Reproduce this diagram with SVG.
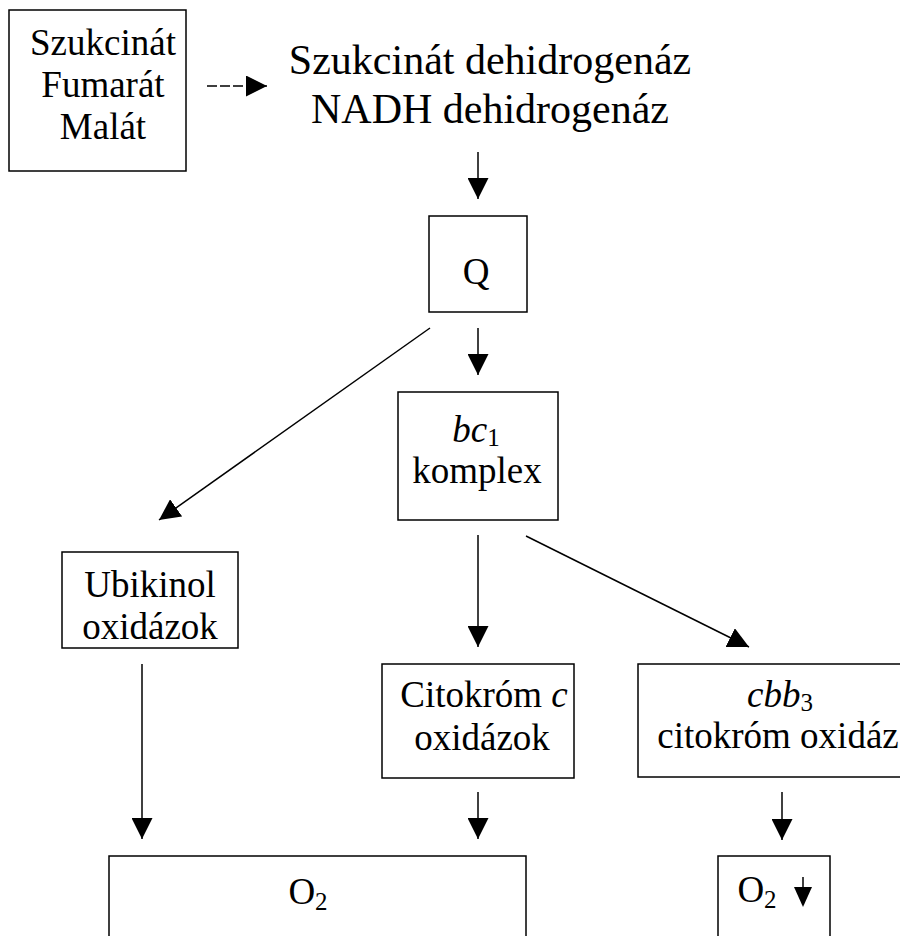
<svg xmlns="http://www.w3.org/2000/svg" width="900" height="936" viewBox="0 0 900 936">
<style>
.box{fill:#fff;stroke:#000;stroke-width:1.5}
.t{font-family:"Liberation Serif","Times New Roman",serif;font-size:37px;fill:#000;text-anchor:middle}
.h{font-size:42px}
.i{font-style:italic}
.sub{font-size:25px}
.c{stroke:#000;stroke-width:1.5;fill:none;marker-end:url(#ah)}
</style>
<defs>
<marker id="ah" markerUnits="userSpaceOnUse" markerWidth="21" markerHeight="21" viewBox="0 0 21 21" refX="21" refY="10.5" orient="auto">
<path d="M0,0 L21,10.5 L0,21 z" fill="#000"/>
</marker>
</defs>
<rect width="900" height="936" fill="#fff"/>
<g id="connectors">
<line class="c" x1="207" y1="86" x2="267" y2="86" stroke-dasharray="10,3"/>
<line class="c" x1="478" y1="152" x2="478" y2="199"/>
<line class="c" x1="478" y1="328" x2="478" y2="375"/>
<line class="c" x1="430" y1="328" x2="159" y2="520"/>
<line class="c" x1="478" y1="535" x2="478" y2="647"/>
<line class="c" x1="526" y1="536" x2="749" y2="647"/>
<line class="c" x1="142" y1="664" x2="142" y2="839"/>
<line class="c" x1="478" y1="792" x2="478" y2="839"/>
<line class="c" x1="782" y1="792" x2="782" y2="840"/>
</g>
<g id="substrates">
<rect class="box" x="9" y="10" width="177" height="161"/>
<text class="t" x="103" y="55">Szukcinát</text>
<text class="t" x="103" y="97">Fumarát</text>
<text class="t" x="103" y="139">Malát</text>
</g>
<g id="dehydrogenases">
<text class="t h" x="490" y="74">Szukcinát dehidrogenáz</text>
<text class="t h" x="490" y="123">NADH dehidrogenáz</text>
</g>
<g id="q">
<rect class="box" x="429" y="216" width="98" height="96"/>
<text class="t" x="476" y="284">Q</text>
</g>
<g id="bc1">
<rect class="box" x="398" y="392" width="160" height="128"/>
<text class="t" x="476" y="442"><tspan class="i">bc</tspan><tspan class="sub" dy="4">1</tspan></text>
<text class="t" x="477" y="483">komplex</text>
</g>
<g id="ubikinol">
<rect class="box" x="62" y="552" width="176" height="96"/>
<text class="t" x="150" y="597">Ubikinol</text>
<text class="t" x="150" y="639">oxidázok</text>
</g>
<g id="citokrom-c">
<rect class="box" x="382" y="664" width="192" height="114"/>
<text class="t" x="484" y="707">Citokróm <tspan class="i">c</tspan></text>
<text class="t" x="482" y="750">oxidázok</text>
</g>
<g id="cbb3">
<rect class="box" x="638" y="664" width="300" height="113"/>
<text class="t" x="780" y="707"><tspan class="i">cbb</tspan><tspan class="sub" dy="4">3</tspan></text>
<text class="t" x="778" y="748">citokróm oxidáz</text>
</g>
<g id="o2-main">
<rect class="box" x="109" y="856" width="417" height="100"/>
<text class="t" x="308" y="904">O<tspan class="sub" dy="6">2</tspan></text>
</g>
<g id="o2-low">
<rect class="box" x="718" y="856" width="112" height="100"/>
<text class="t" x="757" y="902">O<tspan class="sub" dy="6">2</tspan></text>
<line x1="803" y1="877" x2="803" y2="890" stroke="#000" stroke-width="1.5"/>
<path d="M794,887 L812,887 L803,907 z" fill="#000"/>
</g>
</svg>
